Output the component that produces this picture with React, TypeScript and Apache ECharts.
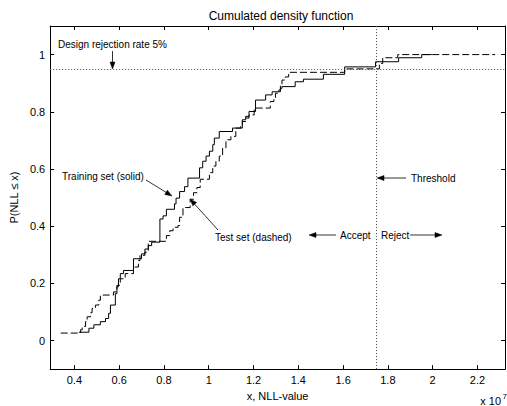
import React, { useEffect, useRef } from 'react';
import * as echarts from 'echarts';

// x values in units of 1e7
const trainX = [0.420, 0.465, 0.487, 0.516, 0.539, 0.553, 0.561, 0.583, 0.590, 0.597, 0.605, 0.619, 0.664, 0.700, 0.715, 0.730, 0.745, 0.782, 0.796, 0.811, 0.847, 0.854, 0.870, 0.892, 0.907, 0.959, 0.973, 0.988, 1.003, 1.018, 1.025, 1.047, 1.106, 1.150, 1.165, 1.180, 1.209, 1.254, 1.283, 1.320, 1.327, 1.386, 1.423, 1.512, 1.607, 1.745, 1.848, 1.951, 1.996];
const trainP = [0.029, 0.043, 0.055, 0.066, 0.077, 0.095, 0.124, 0.164, 0.188, 0.216, 0.234, 0.245, 0.286, 0.303, 0.320, 0.332, 0.344, 0.425, 0.436, 0.459, 0.478, 0.498, 0.521, 0.538, 0.568, 0.604, 0.627, 0.645, 0.662, 0.685, 0.708, 0.731, 0.743, 0.772, 0.784, 0.801, 0.841, 0.859, 0.870, 0.882, 0.888, 0.905, 0.914, 0.931, 0.957, 0.975, 0.989, 1.0, 1.0];

const testX = [0.339, 0.428, 0.435, 0.450, 0.457, 0.472, 0.479, 0.494, 0.509, 0.516, 0.575, 0.590, 0.605, 0.627, 0.664, 0.686, 0.693, 0.715, 0.730, 0.811, 0.826, 0.841, 0.863, 0.870, 0.885, 0.917, 0.932, 0.947, 0.962, 1.003, 1.018, 1.032, 1.047, 1.062, 1.077, 1.099, 1.121, 1.143, 1.150, 1.165, 1.180, 1.203, 1.275, 1.291, 1.298, 1.313, 1.320, 1.327, 1.342, 1.357, 1.607, 1.762, 1.777, 1.844, 2.279];
const testP = [0.026, 0.038, 0.049, 0.066, 0.083, 0.097, 0.112, 0.124, 0.141, 0.159, 0.170, 0.193, 0.216, 0.234, 0.257, 0.280, 0.298, 0.309, 0.347, 0.367, 0.384, 0.396, 0.402, 0.431, 0.465, 0.494, 0.517, 0.535, 0.564, 0.587, 0.610, 0.627, 0.645, 0.674, 0.702, 0.714, 0.743, 0.749, 0.766, 0.778, 0.789, 0.813, 0.836, 0.847, 0.865, 0.876, 0.893, 0.911, 0.922, 0.938, 0.950, 0.969, 0.989, 1.0, 1.0];

const xTicks = [0.4, 0.6, 0.8, 1.0, 1.2, 1.4, 1.6, 1.8, 2.0, 2.2];
const yTicks = [0, 0.2, 0.4, 0.6, 0.8, 1.0];
const xRange = [0.292, 2.323];
const yRange = [-0.1, 1.1];
const thresholdX = 1.75;
const designLevel = 0.95;

const FONT = '"Liberation Sans", Arial, Helvetica, sans-serif';

function arrow(x1: number, y1: number, x2: number, y2: number) {
  const dx = x2 - x1;
  const dy = y2 - y1;
  const len = Math.sqrt(dx * dx + dy * dy);
  const ux = dx / len;
  const uy = dy / len;
  const hl = 7;
  const hw = 2.5;
  const bx = x2 - ux * hl;
  const by = y2 - uy * hl;
  return [
    {
      type: 'line',
      shape: { x1, y1, x2: bx, y2: by },
      style: { stroke: '#000', lineWidth: 0.8 },
      silent: true,
    },
    {
      type: 'polygon',
      shape: {
        points: [
          [x2, y2],
          [bx - uy * hw, by + ux * hw],
          [bx + uy * hw, by - ux * hw],
        ],
      },
      style: { fill: '#000', stroke: '#000', lineWidth: 0.5 },
      silent: true,
    },
  ];
}

function label(text: string, x: number, y: number, align: string = 'left', size = 10) {
  return {
    type: 'text',
    x,
    y,
    style: {
      text,
      fill: '#000',
      font: `${size}px ${FONT}`,
      textAlign: align,
      textVerticalAlign: 'middle',
    },
    silent: true,
  };
}

export default function App() {
  const ref = useRef<HTMLDivElement>(null);
  useEffect(() => {
    document.body.style.margin = '0';
    const chart = echarts.init(ref.current!, null, { renderer: 'svg' });
    const fmt = (v: number) => String(+v.toFixed(1));
    const axisCommon = {
      type: 'value',
      axisLine: { show: true, onZero: false, lineStyle: { color: '#000', width: 1 } },
      splitLine: { show: false },
    };
    const option: any = {
      animation: false,
      backgroundColor: '#fff',
      title: {
        text: 'Cumulated density function',
        left: 276,
        top: 5,
        textAlign: 'center',
        textStyle: { fontSize: 12, fontWeight: 'normal', color: '#000', fontFamily: FONT },
      },
      grid: { left: 46, right: 2, top: 26, bottom: 33, containLabel: false },
      xAxis: [
        {
          ...axisCommon,
          position: 'bottom',
          min: xRange[0],
          max: xRange[1],
          name: 'x, NLL-value',
          nameLocation: 'middle',
          nameGap: 13,
          nameTextStyle: { fontSize: 11, color: '#000', fontFamily: FONT },
          axisTick: { show: true, inside: true, length: 4, customValues: xTicks, lineStyle: { color: '#000' } },
          axisLabel: { show: true, customValues: xTicks, formatter: fmt, fontSize: 11, color: '#000', fontFamily: FONT, margin: 5 },
        },
        {
          ...axisCommon,
          position: 'top',
          min: xRange[0],
          max: xRange[1],
          axisTick: { show: true, inside: true, length: 4, customValues: xTicks, lineStyle: { color: '#000' } },
          axisLabel: { show: false },
        },
      ],
      yAxis: [
        {
          ...axisCommon,
          position: 'left',
          min: yRange[0],
          max: yRange[1],
          name: 'P(NLL \u2264 x)',
          nameLocation: 'middle',
          nameGap: 28,
          nameRotate: 90,
          nameTextStyle: { fontSize: 11, color: '#000', fontFamily: FONT },
          axisTick: { show: true, inside: true, length: 4, customValues: yTicks, lineStyle: { color: '#000' } },
          axisLabel: { show: true, customValues: yTicks, formatter: fmt, fontSize: 11, color: '#000', fontFamily: FONT, margin: 5 },
        },
        {
          ...axisCommon,
          position: 'right',
          min: yRange[0],
          max: yRange[1],
          axisTick: { show: true, inside: true, length: 4, customValues: yTicks, lineStyle: { color: '#000' } },
          axisLabel: { show: false },
        },
      ],
      series: [
        {
          name: 'Training set',
          type: 'line',
          step: 'end',
          showSymbol: false,
          symbol: 'none',
          data: trainX.map((x, i) => [x, trainP[i]]),
          lineStyle: { color: '#000', width: 1 },
          markLine: {
            silent: true,
            symbol: 'none',
            label: { show: false },
            lineStyle: { color: '#444', type: [1, 2], width: 1 },
            data: [{ xAxis: thresholdX }, { yAxis: designLevel }],
          },
        },
        {
          name: 'Test set',
          type: 'line',
          step: 'end',
          showSymbol: false,
          symbol: 'none',
          data: testX.map((x, i) => [x, testP[i]]),
          lineStyle: { color: '#000', width: 1, type: [7, 3] },
        },
      ],
      graphic: [
        label('Design rejection rate 5%', 58, 44),
        ...arrow(112.5, 51, 112.5, 69),
        label('Training set (solid)', 62, 176),
        ...arrow(146, 180, 172, 196),
        label('Test set (dashed)', 215, 237),
        ...arrow(218, 230, 190, 199),
        label('Threshold', 411, 178),
        ...arrow(406, 178, 377, 178),
        label('Accept', 340, 235),
        ...arrow(336, 235, 309, 235),
        label('Reject', 381, 235),
        ...arrow(410, 235, 442, 235),
        label('x 10', 501, 401, 'right', 11),
        label('7', 502.5, 396, 'left', 8),
      ],
    };
    chart.setOption(option);
    return () => chart.dispose();
  }, []);
  return <div ref={ref} style={{ width: 507, height: 406 }} />;
}
